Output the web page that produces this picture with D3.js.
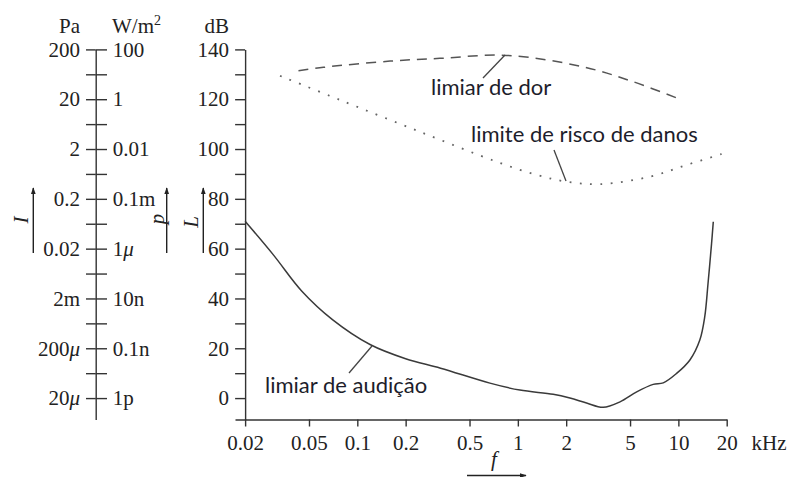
<!DOCTYPE html>
<html>
<head>
<meta charset="utf-8">
<script src="https://cdn.jsdelivr.net/npm/d3@7"></script>
<style>
  body { margin: 0; background: #fff; }
  svg text { fill: #222; }
  .serif { font-family: "Liberation Serif", "DejaVu Serif", serif; font-size: 21px; }
  .note { font-family: Lato, "Open Sans", sans-serif; font-size: 22px; fill: #1d1d2b; }
</style>
</head>
<body>
<svg id="chart" width="793" height="477"></svg>
<script>
// Frequency axis (kHz) and level axis (dB)
const freqTicks = [0.02, 0.05, 0.1, 0.2, 0.5, 1, 2, 5, 10, 20];
const levelTicks = [0, 10, 20, 30, 40, 50, 60, 70, 80, 90, 100, 110, 120, 130, 140];
const levelLabels = [0, 20, 40, 60, 80, 100, 120, 140];

// Equivalent pressure (Pa) and intensity (W/m²) for 0, 20, ... 140 dB
const pressureLabels = ["20μ", "200μ", "2m", "0.02", "0.2", "2", "20", "200"];
const intensityLabels = ["1p", "0.1n", "10n", "1μ", "0.1m", "0.01", "1", "100"];

// Threshold of hearing
const hearingFreq = [0.02, 0.03, 0.045, 0.07, 0.12, 0.2, 0.33, 0.67, 1.03, 1.66, 2.11, 2.68, 3.4, 4.33, 5.5, 6.97, 8.05, 9.75, 11.8, 13.6, 14.6, 15.3, 16.1, 16.5];
const hearingLevel = [71, 57.5, 43, 31.5, 21.5, 15.8, 12, 6, 3.2, 1.5, 0, -2, -3.7, -1.5, 2.5, 5.5, 6.1, 9.9, 15.3, 23.3, 32.7, 46, 62.1, 70.8];

// Threshold of pain
const painFreq = [0.043, 0.0615, 0.16, 0.327, 0.85, 2.55, 5.24, 10.5];
const painLevel = [131.4, 132.8, 135.3, 136.4, 137.6, 133, 127, 119.7];

// Limit of risk of damage
const damageFreq = [0.033, 0.078, 0.246, 0.738, 1.31, 2.01, 3.25, 6.65, 11.25, 18.6];
const damageLevel = [129.4, 119.7, 106.9, 94.9, 89.6, 86.9, 85.9, 88.9, 93.6, 98.0];

const svg = d3.select("#chart");

const x = d3.scaleLog().domain([0.0173, 20]).range([235, 726.7]);
const y = d3.scaleLinear().domain([-8.6, 140]).range([419.5, 49.4]);

const ink = "#333";

svg.append("defs").append("marker")
  .attr("id", "arrow").attr("viewBox", "0 0 10 10")
  .attr("refX", 9).attr("refY", 5)
  .attr("markerWidth", 7).attr("markerHeight", 7)
  .attr("markerUnits", "userSpaceOnUse")
  .attr("orient", "auto")
  .append("path").attr("d", "M0,1.5L10,5L0,8.5Z").attr("fill", "#222");

function styleAxis(g) {
  g.selectAll("path, line").attr("stroke", ink).attr("stroke-width", 1.4);
  g.selectAll("text").attr("class", "serif").attr("fill", "#222");
}

// italic μ inside prefix labels
function withMu(sel) {
  sel.each(function () {
    const t = d3.select(this);
    const s = t.text();
    if (s.indexOf("μ") < 0) return;
    t.text(null);
    s.split(/(μ)/).filter(p => p.length).forEach(p => {
      const ts = t.append("tspan").text(p);
      if (p === "μ") ts.attr("font-style", "italic");
    });
  });
}

// Frequency axis
const gx = svg.append("g").attr("transform", `translate(0,${y(-8.6)})`)
  .call(d3.axisBottom(x).tickValues(freqTicks).tickSize(7).tickSizeOuter(0).tickPadding(8.5)
    .tickFormat(d => String(d)));
styleAxis(gx);

// Level axis (dB)
const gy = svg.append("g").attr("transform", `translate(${x(0.02)},0)`)
  .call(d3.axisLeft(y).tickValues(levelTicks).tickSize(10).tickSizeOuter(0).tickPadding(6)
    .tickFormat(d => levelLabels.includes(d) ? String(d) : ""));
styleAxis(gy);

// Pressure / intensity scale
const xs = 95.7;
const gp = svg.append("g").attr("transform", `translate(${xs},0)`)
  .call(d3.axisLeft(y).tickValues(levelTicks).tickSize(9.7).tickSizeOuter(0).tickPadding(6)
    .tickFormat(d => d % 20 === 0 ? pressureLabels[d / 20] : ""));
styleAxis(gp);
gp.selectAll(".tick text").call(withMu);
const gi = svg.append("g").attr("transform", `translate(${xs},0)`)
  .call(d3.axisRight(y).tickValues(levelTicks).tickSize(11.3).tickSizeOuter(0).tickPadding(5.7)
    .tickFormat(d => d % 20 === 0 ? intensityLabels[d / 20] : ""));
styleAxis(gi);
gi.select(".domain").remove();
gi.selectAll(".tick text").call(withMu);

// Unit headings
svg.append("text").attr("class", "serif").attr("x", 80).attr("y", 33).attr("text-anchor", "end").text("Pa");
const wm = svg.append("text").attr("class", "serif").attr("x", 112).attr("y", 33);
wm.append("tspan").text("W/m");
wm.append("tspan").attr("font-size", 14).attr("dy", -8).text("2");
svg.append("text").attr("class", "serif").attr("x", 229).attr("y", 33).attr("text-anchor", "end").text("dB");
svg.append("text").attr("class", "serif").attr("x", 769).attr("y", 450).attr("text-anchor", "middle").text("kHz");

// Quantity arrows
function upArrow(xp) {
  svg.append("line").attr("x1", xp).attr("x2", xp).attr("y1", 253).attr("y2", 188)
    .attr("stroke", "#222").attr("stroke-width", 1.4).attr("marker-end", "url(#arrow)");
}
upArrow(33.3); upArrow(166.7); upArrow(203.3);
function rotLabel(xp, yp, s) {
  svg.append("text").attr("class", "serif").attr("font-style", "italic")
    .attr("text-anchor", "middle").attr("dominant-baseline", "central")
    .attr("transform", `translate(${xp},${yp}) rotate(-90)`).text(s);
}
rotLabel(21, 220, "I");
rotLabel(157, 219, "p");
rotLabel(191, 222, "L");

svg.append("text").attr("class", "serif").attr("font-style", "italic")
  .attr("x", 494).attr("y", 466).attr("text-anchor", "middle").text("f");
svg.append("line").attr("x1", 467).attr("x2", 526).attr("y1", 475.5).attr("y2", 475.5)
  .attr("stroke", "#222").attr("stroke-width", 1.4).attr("marker-end", "url(#arrow)");

// Curves
const line = d3.line().x(d => x(d[0])).y(d => y(d[1])).curve(d3.curveCatmullRom.alpha(0.5));

svg.append("path").datum(d3.zip(hearingFreq, hearingLevel))
  .attr("d", line).attr("fill", "none").attr("stroke", "#3a3a3a").attr("stroke-width", 1.5);

svg.append("path").datum(d3.zip(painFreq, painLevel))
  .attr("d", line).attr("fill", "none").attr("stroke", "#555").attr("stroke-width", 1.5)
  .attr("stroke-dasharray", "10,7");

svg.append("path").datum(d3.zip(damageFreq, damageLevel))
  .attr("d", line).attr("fill", "none").attr("stroke", "#666").attr("stroke-width", 1.8)
  .attr("stroke-dasharray", "1.8,8.5");

// Curve annotations
function note(tx, ty, s, lx1, ly1, lx2, ly2) {
  svg.append("line").attr("x1", lx1).attr("y1", ly1).attr("x2", lx2).attr("y2", ly2)
    .attr("stroke", "#444").attr("stroke-width", 1.3);
  svg.append("text").attr("class", "note").attr("x", tx).attr("y", ty).text(s);
}
note(431, 95, "limiar de dor", 483, 78, 505, 55);
note(471, 141.7, "limite de risco de danos", 554, 150, 566, 181);
note(265, 393, "limiar de audição", 349, 373, 372, 346);
</script>
</body>
</html>
